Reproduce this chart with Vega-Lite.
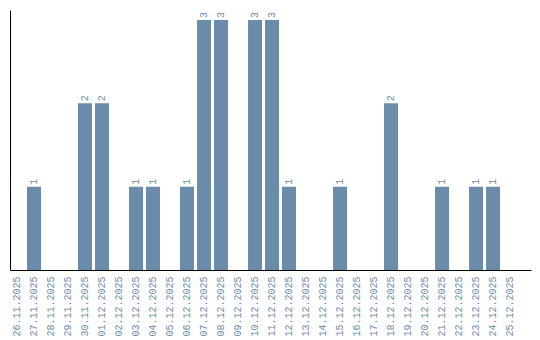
{
  "$schema": "https://vega.github.io/schema/vega-lite/v6.json",
  "width": 521,
  "height": 260,
  "autosize": "none",
  "padding": {"left": 10, "top": 10, "right": 9, "bottom": 70},
  "background": "white",
  "config": {"view": {"stroke": null}},
  "data": {
    "values": [
      {"date": "26.11.2025", "count": 0},
      {"date": "27.11.2025", "count": 1},
      {"date": "28.11.2025", "count": 0},
      {"date": "29.11.2025", "count": 0},
      {"date": "30.11.2025", "count": 2},
      {"date": "01.12.2025", "count": 2},
      {"date": "02.12.2025", "count": 0},
      {"date": "03.12.2025", "count": 1},
      {"date": "04.12.2025", "count": 1},
      {"date": "05.12.2025", "count": 0},
      {"date": "06.12.2025", "count": 1},
      {"date": "07.12.2025", "count": 3},
      {"date": "08.12.2025", "count": 3},
      {"date": "09.12.2025", "count": 0},
      {"date": "10.12.2025", "count": 3},
      {"date": "11.12.2025", "count": 3},
      {"date": "12.12.2025", "count": 1},
      {"date": "13.12.2025", "count": 0},
      {"date": "14.12.2025", "count": 0},
      {"date": "15.12.2025", "count": 1},
      {"date": "16.12.2025", "count": 0},
      {"date": "17.12.2025", "count": 0},
      {"date": "18.12.2025", "count": 2},
      {"date": "19.12.2025", "count": 0},
      {"date": "20.12.2025", "count": 0},
      {"date": "21.12.2025", "count": 1},
      {"date": "22.12.2025", "count": 0},
      {"date": "23.12.2025", "count": 1},
      {"date": "24.12.2025", "count": 1},
      {"date": "25.12.2025", "count": 0}
    ]
  },
  "encoding": {
    "x": {
      "field": "date",
      "type": "nominal",
      "sort": null,
      "scale": {"paddingInner": 0.176, "paddingOuter": 0.41, "align": 0, "round": false},
      "axis": {
        "title": null,
        "ticks": false,
        "labelAngle": 270,
        "labelPadding": 6,
        "labelFont": "Liberation Mono",
        "labelFontSize": 10,
        "labelColor": "#6b8cad",
        "domainColor": "#000000",
        "domainWidth": 1,
        "grid": false
      }
    },
    "y": {
      "field": "count",
      "type": "quantitative",
      "scale": {"domain": [0, 3.12], "nice": false},
      "axis": {
        "title": null,
        "labels": false,
        "ticks": false,
        "grid": false,
        "domainColor": "#000000",
        "domainWidth": 1
      }
    }
  },
  "layer": [
    {"mark": {"type": "bar", "color": "#6b8bab"}},
    {
      "transform": [{"filter": "datum.count > 0"}],
      "mark": {
        "type": "text",
        "angle": 270,
        "align": "left",
        "baseline": "middle",
        "dx": 2,
        "font": "Liberation Mono",
        "fontSize": 10,
        "color": "#6b8cad"
      },
      "encoding": {"text": {"field": "count", "type": "quantitative"}}
    }
  ]
}
